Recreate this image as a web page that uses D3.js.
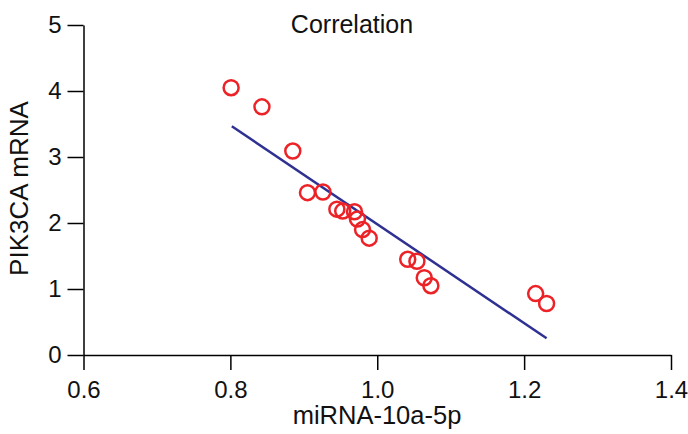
<!DOCTYPE html>
<html>
<head>
<meta charset="utf-8">
<script src="https://cdn.jsdelivr.net/npm/d3@7"></script>
<style>
  html, body { margin: 0; padding: 0; background: #fff; }
  svg { display: block; font-family: "Liberation Sans", Arial, sans-serif; }
</style>
</head>
<body>
<svg id="chart" width="688" height="434"></svg>
<script>
const mirna = [0.801, 0.843, 0.885, 0.905, 0.926, 0.945, 0.953, 0.969, 0.973, 0.980, 0.989, 1.0415, 1.054, 1.064, 1.073, 1.2157, 1.2306];
const pik3ca = [4.05, 3.76, 3.09, 2.46, 2.47, 2.21, 2.18, 2.17, 2.06, 1.90, 1.77, 1.45, 1.42, 1.17, 1.05, 0.93, 0.78];
const fitX = [0.802, 1.2306];
const fitY = [3.465, 0.253];
const xTicks = [0.6, 0.8, 1.0, 1.2, 1.4];
const yTicks = [0, 1, 2, 3, 4, 5];
const title = "Correlation";
const xLabel = "miRNA-10a-5p";
const yLabel = "PIK3CA mRNA";

const svg = d3.select("#chart");
const x = d3.scaleLinear().domain([0.6, 1.4]).range([83.5, 671]);
const y = d3.scaleLinear().domain([0, 5]).range([355, 25]);

const xAxis = svg.append("g").attr("transform", `translate(0,${y(0)})`)
  .call(d3.axisBottom(x).tickValues(xTicks).tickFormat(d3.format(".1f")).tickSize(15).tickSizeOuter(0).tickPadding(11));
const yAxis = svg.append("g").attr("transform", `translate(${x(0.6)},0)`)
  .call(d3.axisLeft(y).tickValues(yTicks).tickFormat(d3.format("d")).tickSize(16).tickSizeOuter(0).tickPadding(6));

[xAxis, yAxis].forEach(g => {
  g.select(".domain").attr("stroke", "#000").attr("stroke-width", 1.5);
  g.selectAll(".tick line").attr("stroke", "#000").attr("stroke-width", 1.5);
  g.selectAll(".tick text").attr("fill", "#111").style("font-size", "24px").style("font-family", "'Liberation Sans', Arial, sans-serif");
});

svg.append("line")
  .attr("x1", x(fitX[0])).attr("y1", y(fitY[0]))
  .attr("x2", x(fitX[1])).attr("y2", y(fitY[1]))
  .attr("stroke", "#2e3192").attr("stroke-width", 2.5);

svg.append("g").selectAll("circle")
  .data(mirna.map((v, i) => [v, pik3ca[i]]))
  .join("circle")
  .attr("cx", d => x(d[0])).attr("cy", d => y(d[1]))
  .attr("r", 7.5)
  .attr("fill", "none").attr("stroke", "#ec2227").attr("stroke-width", 2.5);

svg.append("text").attr("x", 352).attr("y", 33).attr("text-anchor", "middle")
  .style("font-size", "25px").attr("fill", "#111").text(title);
svg.append("text").attr("x", 377).attr("y", 424).attr("text-anchor", "middle")
  .style("font-size", "25.5px").attr("fill", "#111").text(xLabel);
svg.append("text").attr("transform", `translate(28,188.5) rotate(-90)`).attr("text-anchor", "middle")
  .style("font-size", "26px").attr("fill", "#111").text(yLabel);
</script>
</body>
</html>
